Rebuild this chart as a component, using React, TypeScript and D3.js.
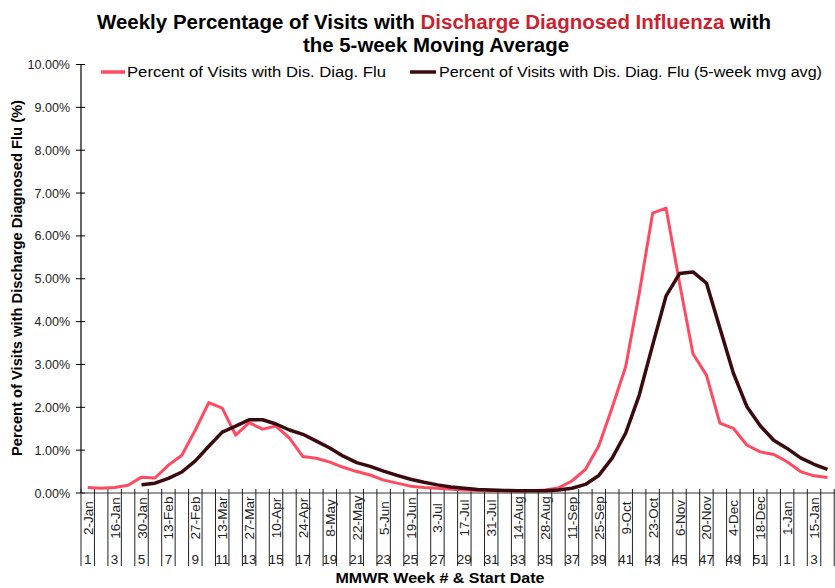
import React from "react";
import * as d3 from "d3";

const dateLabels = [
  "2-Jan","9-Jan","16-Jan","23-Jan","30-Jan","6-Feb","13-Feb","20-Feb","27-Feb","6-Mar",
  "13-Mar","20-Mar","27-Mar","3-Apr","10-Apr","17-Apr","24-Apr","1-May","8-May","15-May",
  "22-May","29-May","5-Jun","12-Jun","19-Jun","26-Jun","3-Jul","10-Jul","17-Jul","24-Jul",
  "31-Jul","7-Aug","14-Aug","21-Aug","28-Aug","4-Sep","11-Sep","18-Sep","25-Sep","2-Oct",
  "9-Oct","16-Oct","23-Oct","30-Oct","6-Nov","13-Nov","20-Nov","27-Nov","4-Dec","11-Dec",
  "18-Dec","25-Dec","1-Jan","8-Jan","15-Jan","22-Jan"
];

const weekNumbers = [
  1,2,3,4,5,6,7,8,9,10,11,12,13,14,15,16,17,18,19,20,21,22,23,24,25,26,
  27,28,29,30,31,32,33,34,35,36,37,38,39,40,41,42,43,44,45,46,47,48,49,50,51,52,
  1,2,3,4
];

const fluPct = [
  0.13,0.11,0.13,0.18,0.37,0.35,0.65,0.88,1.47,2.11,
  1.98,1.35,1.64,1.49,1.56,1.28,0.85,0.81,0.72,0.60,
  0.50,0.42,0.30,0.23,0.16,0.13,0.11,0.09,0.07,0.06,
  0.05,0.05,0.05,0.05,0.07,0.12,0.28,0.55,1.10,2.00,
  2.95,4.65,6.53,6.65,4.90,3.25,2.75,1.63,1.51,1.12,
  0.96,0.90,0.73,0.50,0.40,0.36
];

const fluMvgAvg: (number | null)[] = [
  null,null,null,null,0.19,0.23,0.34,0.49,0.75,1.09,
  1.42,1.56,1.71,1.71,1.61,1.47,1.37,1.21,1.05,0.86,
  0.71,0.62,0.51,0.41,0.32,0.25,0.19,0.14,0.11,0.08,
  0.07,0.06,0.05,0.05,0.05,0.07,0.11,0.20,0.41,0.82,
  1.40,2.28,3.45,4.60,5.12,5.16,4.90,3.85,2.80,2.02,
  1.57,1.23,1.04,0.82,0.67,0.55
];

const yTicks = [0,1,2,3,4,5,6,7,8,9,10];

const W = 835, H = 588;
const plotLeft = 81, plotRight = 834.2, plotTop = 64.5, plotBottom = 493;
const FONT = "'Liberation Sans', Arial, sans-serif";
const NARROW = "'Liberation Sans Narrow', 'Arial Narrow', 'Liberation Sans', Arial, sans-serif";

export default function App() {
  const idx = d3.range(dateLabels.length);
  const x = d3.scaleBand<number>().domain(idx).range([plotLeft, plotRight]).padding(0);
  const y = d3.scaleLinear().domain([0, 10]).range([plotBottom, plotTop]);
  const cx = (i: number) => (x(i) as number) + x.bandwidth() / 2;

  const line = d3.line<number | null>()
    .defined((d) => d !== null)
    .x((_, i) => cx(i))
    .y((d) => y(d as number));

  const boundaries = d3.range(dateLabels.length + 1).map((i) =>
    i < dateLabels.length ? (x(i) as number) : plotRight
  );

  return (
    <svg width={W} height={H} style={{ position: "absolute", left: 0, top: 0, background: "#fff" }}>
      <rect x={0} y={0} width={W} height={H} fill="#fff" />
      {/* Title */}
      <text x={434} y={29} textAnchor="middle" fontFamily={NARROW} fontWeight="bold" fontSize={20}
        textLength={674} lengthAdjust="spacingAndGlyphs" fill="#000">
        <tspan>Weekly Percentage of Visits with </tspan>
        <tspan fill="#CC1F2F">Discharge Diagnosed Influenza</tspan>
        <tspan> with</tspan>
      </text>
      <text x={436} y={52} textAnchor="middle" fontFamily={NARROW} fontWeight="bold" fontSize={20}
        textLength={266} lengthAdjust="spacingAndGlyphs" fill="#000">
        the 5-week Moving Average
      </text>

      {/* Legend */}
      <line x1={101} x2={125} y1={72} y2={72} stroke="#FF4A62" strokeWidth={3.5} />
      <text x={127} y={77} fontFamily={NARROW} fontSize={14} fill="#000"
        textLength={259} lengthAdjust="spacingAndGlyphs">Percent of Visits with Dis. Diag. Flu</text>
      <line x1={410} x2={436} y1={72} y2={72} stroke="#3A0A0E" strokeWidth={3.5} />
      <text x={439} y={77} fontFamily={NARROW} fontSize={14} fill="#000"
        textLength={383} lengthAdjust="spacingAndGlyphs">Percent of Visits with Dis. Diag. Flu (5-week mvg avg)</text>

      {/* Y axis */}
      <line x1={plotLeft} x2={plotLeft} y1={plotTop} y2={plotBottom} stroke="#000" strokeWidth={1.2} />
      {yTicks.map((t) => (
        <g key={t}>
          <line x1={plotLeft - 5} x2={plotLeft + 4} y1={y(t)} y2={y(t)} stroke="#000" strokeWidth={1} />
          <text x={70} y={y(t) + 4.5} textAnchor="end" fontFamily={FONT} fontSize={12.5} fill="#222">
            {t.toFixed(2) + "%"}
          </text>
        </g>
      ))}
      <text transform={`translate(22,${278}) rotate(-90)`} textAnchor="middle" fontFamily={NARROW}
        fontWeight="bold" fontSize={14} fill="#000" textLength={356} lengthAdjust="spacingAndGlyphs">
        Percent of Visits with Discharge Diagnosed Flu (%)
      </text>

      {/* X axis */}
      <line x1={plotLeft} x2={W} y1={plotBottom} y2={plotBottom} stroke="#333" strokeWidth={1.2} />
      {boundaries.map((bx, i) => (
        <g key={"b" + i}>
          <line x1={bx} x2={bx} y1={plotBottom - 4} y2={566} stroke="#222" strokeWidth={1} />
        </g>
      ))}
      {idx.filter((i) => i % 2 === 0).map((i) => (
        <g key={"l" + i}>
          <text transform={`translate(${cx(i) + 5},518) rotate(-90)`} textAnchor="middle"
            fontFamily={FONT} fontSize={13.5} fill="#222">{dateLabels[i]}</text>
          <text x={cx(i)} y={563.5} textAnchor="middle" fontFamily={FONT} fontSize={13.5} fill="#222">
            {weekNumbers[i]}
          </text>
        </g>
      ))}
      <text x={440} y={583} textAnchor="middle" fontFamily={NARROW} fontWeight="bold" fontSize={14}
        fill="#000" textLength={209} lengthAdjust="spacingAndGlyphs">MMWR Week # &amp; Start Date</text>

      {/* Series */}
      <path d={line(fluPct) || ""} fill="none" stroke="#FF4A62" strokeWidth={3} strokeLinejoin="round" />
      <path d={line(fluMvgAvg) || ""} fill="none" stroke="#3A0A0E" strokeWidth={3.5} strokeLinejoin="round" />
    </svg>
  );
}
